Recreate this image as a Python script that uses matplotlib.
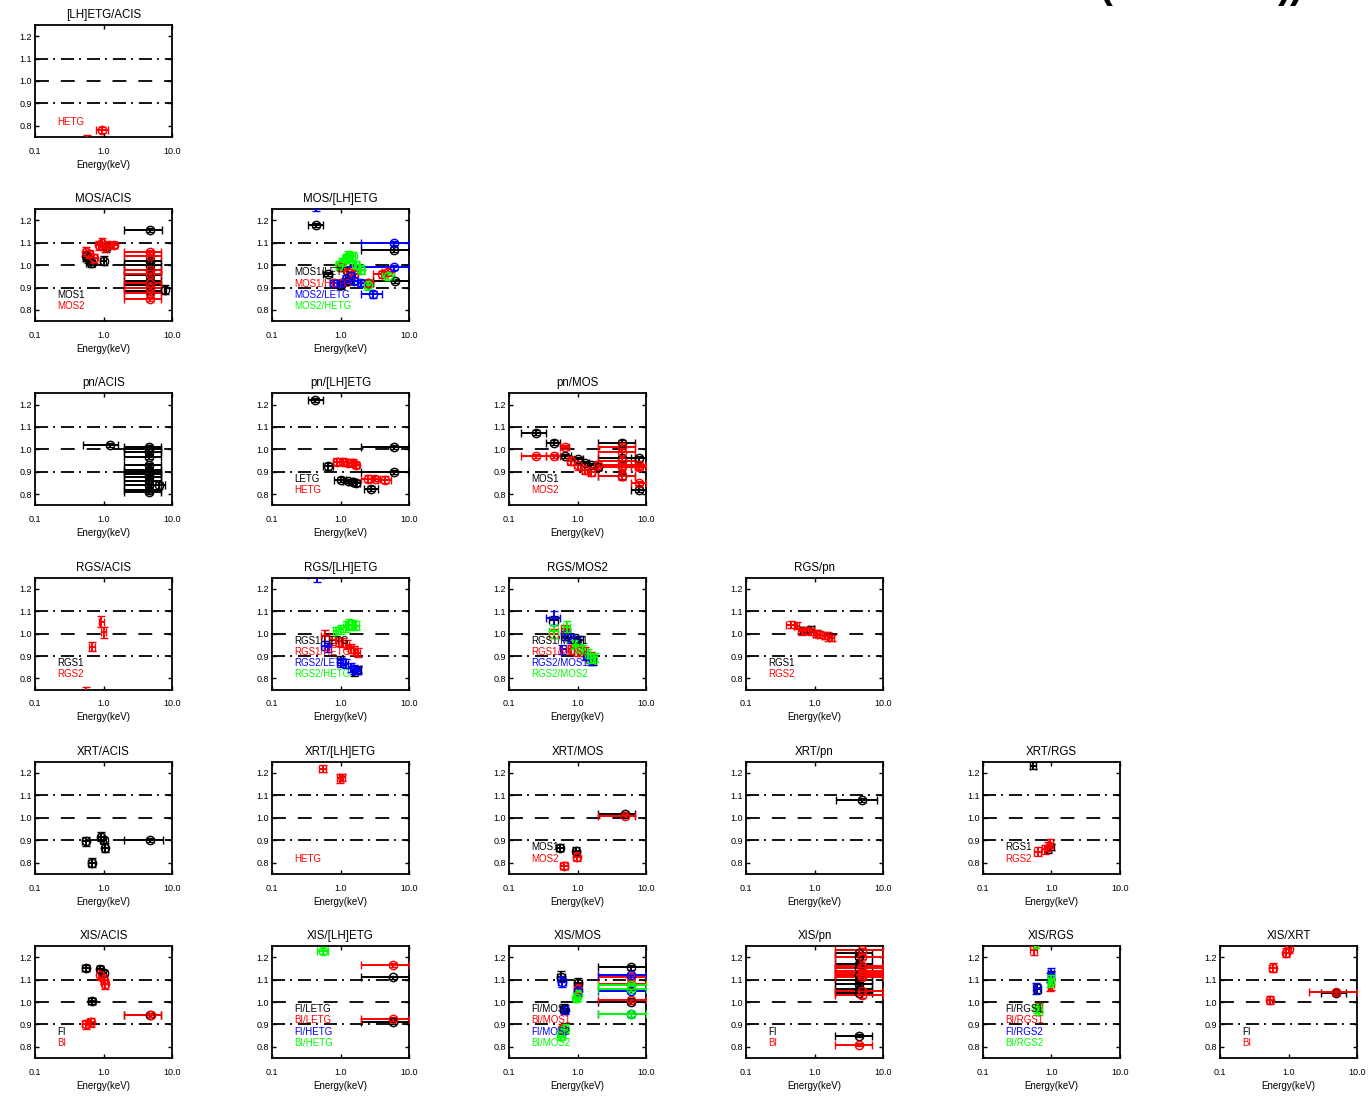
import numpy as np
import matplotlib
matplotlib.use("Agg")
import matplotlib.pyplot as plt
from matplotlib.ticker import NullLocator

plt.rcParams['font.family'] = ['Liberation Sans', 'DejaVu Sans']
plt.rcParams['lines.scale_dashes'] = False

# each row: energy (keV), energy low, energy high, ratio, ratio error
LHETG_ACIS_HETG = [(0.95, 0.78, 1.15, 0.781, 0.015), (0.57, 0.55, 0.59, 0.72, 0.04)]

MOS_ACIS_MOS1 = [(4.7, 2.0, 7.2, 1.156, 0.008), (4.7, 2.0, 7.0, 1.02, 0.008), (4.7, 2.0, 7.0, 1.0, 0.008),
                 (4.7, 2.0, 7.0, 0.98, 0.008), (4.7, 2.0, 7.0, 0.955, 0.008), (4.7, 2.0, 7.0, 0.93, 0.008),
                 (4.7, 2.0, 7.0, 0.91, 0.008), (4.7, 2.0, 7.0, 0.885, 0.008), (7.9, 7.7, 8.1, 0.89, 0.02),
                 (0.55, 0.5, 0.6, 1.04, 0.02), (0.65, 0.55, 0.75, 1.01, 0.02), (1.0, 0.9, 1.1, 1.02, 0.02),
                 (1.1, 1.0, 1.25, 1.08, 0.02), (0.6, 0.5, 0.7, 1.03, 0.02)]
MOS_ACIS_MOS2 = [(4.7, 2.0, 7.0, 1.06, 0.008), (4.7, 2.0, 7.0, 1.04, 0.008), (4.7, 2.0, 7.0, 0.98, 0.008),
                 (4.7, 2.0, 7.0, 0.96, 0.008), (4.7, 2.0, 7.0, 0.92, 0.008), (4.7, 2.0, 7.0, 0.90, 0.008),
                 (4.7, 2.0, 7.0, 0.875, 0.008), (4.7, 2.0, 7.0, 0.85, 0.008),
                 (0.55, 0.5, 0.62, 1.06, 0.02), (0.62, 0.55, 0.7, 1.05, 0.02), (0.72, 0.65, 0.8, 1.03, 0.02),
                 (0.85, 0.78, 0.92, 1.09, 0.02), (0.95, 0.88, 1.02, 1.10, 0.02), (1.05, 0.98, 1.15, 1.08, 0.02),
                 (1.2, 1.1, 1.35, 1.09, 0.015), (1.4, 1.25, 1.55, 1.09, 0.015)]

MOS_LHETG_MOS1_LETG = [(0.44, 0.34, 0.56, 1.18, 0.01), (6.0, 2.0, 10.0, 1.07, 0.01), (6.2, 3.0, 10.0, 0.93, 0.01),
                       (0.65, 0.55, 0.75, 0.96, 0.01), (1.0, 0.9, 1.1, 0.91, 0.015), (1.3, 1.2, 1.45, 0.93, 0.015),
                       (2.5, 2.0, 3.0, 0.92, 0.015)]
MOS_LHETG_MOS1_HETG = [(1.0, 0.9, 1.1, 0.99, 0.015), (1.3, 1.2, 1.45, 0.97, 0.015), (1.6, 1.45, 1.8, 0.96, 0.015),
                       (2.5, 2.0, 3.0, 0.92, 0.015), (4.0, 3.0, 5.0, 0.96, 0.015), (5.0, 4.0, 6.0, 0.97, 0.015)]
MOS_LHETG_MOS2_LETG = [(0.44, 0.34, 0.56, 1.27, 0.03), (6.0, 2.0, 10.0, 1.10, 0.01), (6.0, 1.0, 10.0, 0.99, 0.01),
                       (3.0, 2.0, 4.0, 0.87, 0.015), (0.8, 0.7, 0.9, 0.92, 0.015), (1.0, 0.9, 1.1, 0.92, 0.015),
                       (1.2, 1.1, 1.35, 0.94, 0.015), (1.4, 1.3, 1.55, 0.95, 0.02), (1.6, 1.45, 1.8, 0.93, 0.015),
                       (2.0, 1.8, 2.2, 0.92, 0.015)]
MOS_LHETG_MOS2_HETG = [(0.95, 0.85, 1.05, 1.0, 0.02), (1.05, 0.95, 1.15, 1.01, 0.02), (1.2, 1.1, 1.3, 1.03, 0.02),
                       (1.3, 1.2, 1.45, 1.04, 0.025), (1.5, 1.4, 1.65, 1.04, 0.02), (1.7, 1.55, 1.85, 1.0, 0.02),
                       (2.0, 1.85, 2.2, 0.98, 0.02), (2.5, 2.2, 2.8, 0.91, 0.02), (5.0, 4.0, 6.0, 0.95, 0.015)]

PN_ACIS_RATIO = [1.01, 1.0, 0.99, 0.965, 0.93, 0.91, 0.90, 0.89, 0.875, 0.86, 0.84, 0.82, 0.81]
PN_ACIS = ([(1.25, 0.5, 1.65, 1.02, 0.008)] + [(4.6, 2.0, 6.8, r, 0.01) for r in PN_ACIS_RATIO]
           + [(6.5, 5.0, 7.9, 0.84, 0.015)])

PN_LHETG_LETG = [(0.42, 0.33, 0.55, 1.22, 0.01), (6.0, 2.0, 10.0, 1.01, 0.01), (6.0, 2.0, 10.0, 0.90, 0.01),
                 (0.65, 0.55, 0.78, 0.925, 0.015), (1.0, 0.8, 1.2, 0.865, 0.01), (1.3, 1.1, 1.5, 0.86, 0.01),
                 (1.5, 1.3, 1.7, 0.855, 0.015), (1.7, 1.5, 1.9, 0.85, 0.015), (2.8, 2.2, 3.5, 0.825, 0.01)]
PN_LHETG_HETG = [(0.9, 0.78, 1.0, 0.945, 0.015), (1.1, 1.0, 1.2, 0.945, 0.015), (1.3, 1.2, 1.4, 0.94, 0.015),
                 (1.5, 1.4, 1.6, 0.94, 0.015), (1.7, 1.6, 1.85, 0.93, 0.015), (2.5, 2.0, 3.0, 0.87, 0.015),
                 (3.2, 2.8, 3.8, 0.87, 0.01), (4.5, 3.5, 5.5, 0.865, 0.015)]

PN_MOS_MOS1 = [(0.25, 0.15, 0.35, 1.075, 0.01), (0.45, 0.35, 0.55, 1.03, 0.01), (0.65, 0.5, 0.8, 0.97, 0.01),
               (1.0, 0.8, 1.2, 0.955, 0.01), (1.3, 1.15, 1.45, 0.94, 0.01), (1.6, 1.45, 1.8, 0.93, 0.01),
               (2.0, 1.8, 2.2, 0.92, 0.01), (4.5, 2.0, 7.0, 1.03, 0.01), (4.5, 2.0, 7.0, 0.96, 0.01),
               (4.5, 2.0, 7.0, 0.88, 0.01), (8.0, 6.0, 10.0, 0.82, 0.01), (8.0, 6.0, 10.0, 0.96, 0.01)]
PN_MOS_MOS2 = [(0.25, 0.15, 0.35, 0.97, 0.01), (0.45, 0.35, 0.55, 0.97, 0.01), (0.65, 0.55, 0.75, 1.01, 0.01),
               (0.8, 0.7, 0.9, 0.95, 0.02), (1.0, 0.9, 1.1, 0.93, 0.02), (1.3, 1.15, 1.45, 0.91, 0.02),
               (1.6, 1.45, 1.8, 0.90, 0.02), (2.0, 1.8, 2.2, 0.93, 0.02), (4.5, 2.0, 7.0, 1.01, 0.02),
               (4.5, 2.0, 7.0, 0.99, 0.02), (4.5, 2.0, 7.0, 0.95, 0.02), (4.5, 2.0, 7.0, 0.93, 0.02),
               (4.5, 2.0, 7.0, 0.92, 0.02), (4.5, 2.0, 7.0, 0.88, 0.015), (8.0, 6.0, 10.0, 0.85, 0.01),
               (8.0, 6.0, 10.0, 0.93, 0.01), (8.0, 6.0, 10.0, 0.92, 0.01)]

RGS_ACIS_RGS1 = []
RGS_ACIS_RGS2 = [(0.68, 0.62, 0.74, 0.942, 0.02), (0.92, 0.85, 1.0, 1.054, 0.025), (1.0, 0.92, 1.1, 1.005, 0.025),
                 (0.56, 0.54, 0.58, 0.72, 0.04)]

RGS_LHETG_RGS1_LETG = [(1.0, 0.9, 1.1, 0.88, 0.02), (1.6, 1.45, 1.8, 0.83, 0.02), (1.8, 1.6, 2.0, 0.84, 0.015)]
RGS_LHETG_RGS1_HETG = [(0.6, 0.52, 0.68, 0.99, 0.025), (0.75, 0.68, 0.82, 0.97, 0.02), (0.95, 0.87, 1.03, 0.965, 0.02),
                       (1.1, 1.0, 1.2, 0.96, 0.02), (1.25, 1.15, 1.35, 0.95, 0.02), (1.4, 1.3, 1.5, 0.935, 0.02),
                       (1.6, 1.5, 1.75, 0.925, 0.02), (1.8, 1.65, 1.95, 0.915, 0.02)]
RGS_LHETG_RGS2_LETG = [(0.45, 0.33, 0.55, 1.26, 0.03), (0.6, 0.52, 0.68, 0.945, 0.02), (0.65, 0.58, 0.72, 0.94, 0.02),
                       (1.0, 0.9, 1.1, 0.87, 0.02), (1.2, 1.1, 1.3, 0.865, 0.02), (1.4, 1.3, 1.5, 0.85, 0.02),
                       (1.6, 1.5, 1.75, 0.84, 0.02), (1.8, 1.65, 1.95, 0.835, 0.015)]
RGS_LHETG_RGS2_HETG = [(0.85, 0.78, 0.92, 1.01, 0.02), (1.0, 0.92, 1.08, 1.02, 0.02), (1.2, 1.1, 1.3, 1.03, 0.025),
                       (1.35, 1.25, 1.45, 1.04, 0.025), (1.5, 1.4, 1.6, 1.04, 0.02), (1.7, 1.6, 1.85, 1.035, 0.02)]

RGS_MOS2_RGS1_MOS1 = [(0.45, 0.38, 0.52, 1.06, 0.02), (0.7, 0.62, 0.78, 1.0, 0.02), (0.9, 0.8, 1.0, 0.98, 0.02),
                      (1.1, 1.0, 1.2, 0.97, 0.02), (1.5, 1.35, 1.65, 0.89, 0.02), (1.7, 1.55, 1.85, 0.88, 0.02)]
RGS_MOS2_RGS1_MOS2 = [(0.45, 0.38, 0.52, 1.0, 0.02), (0.65, 0.58, 0.72, 1.02, 0.02), (0.8, 0.72, 0.88, 0.93, 0.02),
                      (1.0, 0.9, 1.1, 0.92, 0.02), (1.3, 1.2, 1.4, 0.92, 0.02), (1.6, 1.45, 1.75, 0.9, 0.02)]
RGS_MOS2_RGS2_MOS1 = [(0.45, 0.35, 0.55, 1.07, 0.03), (0.65, 0.58, 0.72, 0.99, 0.02), (0.8, 0.72, 0.88, 0.98, 0.02),
                      (1.0, 0.9, 1.1, 0.97, 0.02), (0.6, 0.55, 0.68, 0.93, 0.02), (1.3, 1.2, 1.4, 0.9, 0.02),
                      (1.6, 1.45, 1.75, 0.88, 0.02)]
RGS_MOS2_RGS2_MOS2 = [(0.45, 0.38, 0.52, 1.01, 0.03), (0.7, 0.62, 0.78, 1.03, 0.025), (0.9, 0.82, 0.98, 0.95, 0.02),
                      (1.0, 0.92, 1.08, 0.94, 0.02), (1.2, 1.1, 1.3, 0.93, 0.02), (1.4, 1.3, 1.5, 0.91, 0.02),
                      (1.6, 1.5, 1.7, 0.89, 0.02), (1.8, 1.7, 1.95, 0.895, 0.02)]

RGS_PN_RGS1 = [(0.7, 0.62, 0.78, 1.015, 0.015), (0.9, 0.82, 0.98, 1.02, 0.015), (1.1, 1.0, 1.2, 1.0, 0.015)]
RGS_PN_RGS2 = [(0.45, 0.38, 0.52, 1.04, 0.015), (0.55, 0.5, 0.6, 1.035, 0.015), (0.65, 0.58, 0.72, 1.01, 0.015),
               (0.75, 0.68, 0.82, 1.015, 0.015), (0.9, 0.82, 0.98, 1.01, 0.015), (1.05, 0.95, 1.15, 1.0, 0.015),
               (1.2, 1.1, 1.3, 0.995, 0.015), (1.4, 1.3, 1.5, 0.99, 0.015), (1.6, 1.5, 1.75, 0.985, 0.02),
               (1.8, 1.65, 1.95, 0.98, 0.015)]

XRT_ACIS = [(0.55, 0.48, 0.62, 0.895, 0.02), (0.68, 0.6, 0.76, 0.80, 0.02), (0.92, 0.82, 1.02, 0.915, 0.02),
            (1.05, 0.95, 1.15, 0.866, 0.02), (1.0, 0.9, 1.1, 0.90, 0.015), (4.7, 2.0, 7.5, 0.90, 0.008)]

XRT_LHETG_HETG = [(0.55, 0.48, 0.62, 1.22, 0.015), (0.98, 0.88, 1.08, 1.176, 0.02), (1.05, 0.95, 1.15, 1.18, 0.015)]

XRT_MOS_MOS1 = [(0.55, 0.48, 0.62, 0.866, 0.015), (0.95, 0.85, 1.05, 0.853, 0.015), (4.9, 2.0, 7.0, 1.018, 0.008)]
XRT_MOS_MOS2 = [(0.64, 0.56, 0.72, 0.786, 0.015), (0.97, 0.87, 1.07, 0.826, 0.02), (4.9, 2.0, 7.0, 1.009, 0.008)]

XRT_PN = [(4.9, 2.06, 8.2, 1.08, 0.008)]

XRT_RGS_RGS1 = [(0.54, 0.48, 0.6, 1.232, 0.015), (0.9, 0.82, 0.98, 0.86, 0.015), (1.0, 0.9, 1.1, 0.87, 0.015)]
XRT_RGS_RGS2 = [(0.63, 0.56, 0.7, 0.848, 0.02), (0.8, 0.72, 0.88, 0.86, 0.02), (0.9, 0.82, 0.98, 0.87, 0.02),
                (0.95, 0.88, 1.05, 0.885, 0.02)]

XIS_ACIS_FI = [(0.55, 0.48, 0.62, 1.152, 0.015), (0.68, 0.6, 0.76, 1.004, 0.015), (0.89, 0.8, 0.98, 1.147, 0.015),
               (1.0, 0.9, 1.1, 1.13, 0.015), (4.7, 2.0, 7.0, 0.94, 0.008)]
XIS_ACIS_BI = [(0.9, 0.82, 0.98, 1.12, 0.02), (1.02, 0.92, 1.12, 1.1, 0.02), (1.05, 0.95, 1.15, 1.08, 0.02),
               (0.55, 0.48, 0.62, 0.90, 0.02), (0.65, 0.58, 0.72, 0.91, 0.02), (4.9, 2.0, 7.0, 0.942, 0.01)]

XIS_LHETG_FI_LETG = [(5.8, 2.0, 10.0, 1.11, 0.008), (5.8, 2.0, 10.0, 0.91, 0.008)]
XIS_LHETG_BI_LETG = [(5.8, 2.0, 10.0, 1.165, 0.008), (5.8, 2.0, 10.0, 0.925, 0.008)]
XIS_LHETG_FI_HETG = []
XIS_LHETG_BI_HETG = [(0.55, 0.45, 0.65, 1.228, 0.015)]

XIS_MOS_FI_MOS1 = [(0.57, 0.5, 0.65, 1.113, 0.025), (1.03, 0.9, 1.15, 1.083, 0.025), (0.63, 0.56, 0.7, 0.969, 0.02),
                   (6.0, 2.0, 10.0, 1.155, 0.01), (6.0, 2.0, 10.0, 1.0, 0.01)]
XIS_MOS_BI_MOS1 = [(1.0, 0.9, 1.1, 1.06, 0.02), (6.0, 2.0, 10.0, 1.11, 0.01), (6.0, 2.0, 10.0, 1.08, 0.01),
                   (6.0, 2.0, 10.0, 1.01, 0.01), (0.6, 0.55, 0.68, 0.88, 0.02)]
XIS_MOS_FI_MOS2 = [(0.6, 0.52, 0.68, 1.09, 0.025), (1.0, 0.9, 1.1, 1.05, 0.025), (0.65, 0.58, 0.72, 0.965, 0.02),
                   (6.0, 2.0, 10.0, 1.12, 0.01), (6.0, 2.0, 10.0, 1.05, 0.01), (6.0, 2.0, 10.0, 0.945, 0.01)]
XIS_MOS_BI_MOS2 = [(1.0, 0.9, 1.1, 1.03, 0.025), (0.95, 0.85, 1.05, 1.02, 0.02), (0.6, 0.52, 0.68, 0.87, 0.025),
                   (0.65, 0.58, 0.72, 0.88, 0.02), (0.58, 0.52, 0.64, 0.85, 0.02), (6.0, 2.0, 10.0, 1.075, 0.01),
                   (6.0, 2.0, 10.0, 1.06, 0.01), (6.0, 2.0, 10.0, 0.945, 0.01)]

XIS_PN_FI_RATIO = [1.22, 1.2, 1.17, 1.15, 1.12, 1.10, 1.08, 1.06, 1.04]
XIS_PN_BI_RATIO = [1.23, 1.2, 1.16, 1.15, 1.14, 1.13, 1.12, 1.11, 1.05, 1.03]
XIS_PN_FI = [(4.5, 2.0, 7.0, r, 0.01) for r in XIS_PN_FI_RATIO] + [(4.5, 2.0, 7.0, 0.85, 0.008)]
XIS_PN_BI = [(5.0, 2.0, 10.0, r, 0.01) for r in XIS_PN_BI_RATIO] + [(4.5, 2.0, 7.0, 0.81, 0.008)]

XIS_RGS_FI_RGS1 = [(0.62, 0.55, 0.7, 1.06, 0.02), (1.0, 0.9, 1.1, 1.12, 0.02)]
XIS_RGS_BI_RGS1 = [(0.55, 0.48, 0.62, 1.232, 0.02), (0.65, 0.58, 0.72, 0.975, 0.02), (1.0, 0.9, 1.1, 1.08, 0.025),
                   (0.95, 0.88, 1.03, 1.07, 0.02)]
XIS_RGS_FI_RGS2 = [(0.6, 0.53, 0.67, 1.062, 0.025), (1.0, 0.9, 1.1, 1.128, 0.025), (0.95, 0.88, 1.03, 1.11, 0.02)]
XIS_RGS_BI_RGS2 = [(0.61, 0.54, 0.68, 0.973, 0.02), (0.65, 0.58, 0.72, 0.965, 0.025), (1.0, 0.9, 1.1, 1.10, 0.02),
                   (0.95, 0.88, 1.03, 1.085, 0.02), (0.6, 0.56, 0.64, 1.26, 0.02)]

XIS_XRT_FI = [(5.0, 3.0, 7.0, 1.04, 0.008), (1.0, 0.9, 1.1, 1.27, 0.02)]
XIS_XRT_BI = [(0.59, 0.52, 0.66, 1.152, 0.02), (0.54, 0.48, 0.6, 1.009, 0.02), (0.92, 0.82, 1.02, 1.219, 0.02),
              (1.0, 0.9, 1.1, 1.235, 0.015), (4.9, 2.0, 10.0, 1.045, 0.008)]

COLORS = ['black', '#ff0000', '#0000ff', '#00ff00']

# row, col, title, series, legend labels, open circles
PANELS = [
    (0, 0, '[LH]ETG/ACIS', [[], LHETG_ACIS_HETG], ['', 'HETG'], True),
    (1, 0, 'MOS/ACIS', [MOS_ACIS_MOS1, MOS_ACIS_MOS2], ['MOS1', 'MOS2'], True),
    (1, 1, 'MOS/[LH]ETG', [MOS_LHETG_MOS1_LETG, MOS_LHETG_MOS1_HETG, MOS_LHETG_MOS2_LETG, MOS_LHETG_MOS2_HETG],
     ['MOS1/LETG', 'MOS1/HETG', 'MOS2/LETG', 'MOS2/HETG'], True),
    (2, 0, 'pn/ACIS', [PN_ACIS], [], True),
    (2, 1, 'pn/[LH]ETG', [PN_LHETG_LETG, PN_LHETG_HETG], ['LETG', 'HETG'], True),
    (2, 2, 'pn/MOS', [PN_MOS_MOS1, PN_MOS_MOS2], ['MOS1', 'MOS2'], True),
    (3, 0, 'RGS/ACIS', [RGS_ACIS_RGS1, RGS_ACIS_RGS2], ['RGS1', 'RGS2'], False),
    (3, 1, 'RGS/[LH]ETG', [RGS_LHETG_RGS1_LETG, RGS_LHETG_RGS1_HETG, RGS_LHETG_RGS2_LETG, RGS_LHETG_RGS2_HETG],
     ['RGS1/LETG', 'RGS1/HETG', 'RGS2/LETG', 'RGS2/HETG'], False),
    (3, 2, 'RGS/MOS2', [RGS_MOS2_RGS1_MOS1, RGS_MOS2_RGS1_MOS2, RGS_MOS2_RGS2_MOS1, RGS_MOS2_RGS2_MOS2],
     ['RGS1/MOS1', 'RGS1/MOS2', 'RGS2/MOS1', 'RGS2/MOS2'], False),
    (3, 3, 'RGS/pn', [RGS_PN_RGS1, RGS_PN_RGS2], ['RGS1', 'RGS2'], False),
    (4, 0, 'XRT/ACIS', [XRT_ACIS], [], True),
    (4, 1, 'XRT/[LH]ETG', [[], XRT_LHETG_HETG], ['', 'HETG'], False),
    (4, 2, 'XRT/MOS', [XRT_MOS_MOS1, XRT_MOS_MOS2], ['MOS1', 'MOS2'], True),
    (4, 3, 'XRT/pn', [XRT_PN], [], True),
    (4, 4, 'XRT/RGS', [XRT_RGS_RGS1, XRT_RGS_RGS2], ['RGS1', 'RGS2'], False),
    (5, 0, 'XIS/ACIS', [XIS_ACIS_FI, XIS_ACIS_BI], ['FI', 'BI'], True),
    (5, 1, 'XIS/[LH]ETG', [XIS_LHETG_FI_LETG, XIS_LHETG_BI_LETG, XIS_LHETG_FI_HETG, XIS_LHETG_BI_HETG],
     ['FI/LETG', 'BI/LETG', 'FI/HETG', 'BI/HETG'], True),
    (5, 2, 'XIS/MOS', [XIS_MOS_FI_MOS1, XIS_MOS_BI_MOS1, XIS_MOS_FI_MOS2, XIS_MOS_BI_MOS2],
     ['FI/MOS1', 'BI/MOS1', 'FI/MOS2', 'BI/MOS2'], True),
    (5, 3, 'XIS/pn', [XIS_PN_FI, XIS_PN_BI], ['FI', 'BI'], True),
    (5, 4, 'XIS/RGS', [XIS_RGS_FI_RGS1, XIS_RGS_BI_RGS1, XIS_RGS_FI_RGS2, XIS_RGS_BI_RGS2],
     ['FI/RGS1', 'BI/RGS1', 'FI/RGS2', 'BI/RGS2'], False),
    (5, 5, 'XIS/XRT', [XIS_XRT_FI, XIS_XRT_BI], ['FI', 'BI'], True),
]

W, H = 1369, 1098
fig = plt.figure(figsize=(W / 100, H / 100), dpi=100)


def draw_panel(ax, title, series, labels, circles):
    ax.set_xscale('log')
    for k, pts in enumerate(series):
        if not pts:
            continue
        d = np.array(pts)
        e, lo, hi, r, dr = d.T
        ax.errorbar(e, r, xerr=[e - lo, hi - e], yerr=dr, fmt='o' if circles else 'none',
                    ms=6, mfc='none', mec=COLORS[k], mew=1.0, ecolor=COLORS[k],
                    elinewidth=1.4, capsize=2.6, capthick=1.3, zorder=3)
    ax.axhline(1.1, color='black', lw=1.3, ls=(0, (9.4, 3.6, 1.4, 4.3)), zorder=2)
    ax.axhline(0.9, color='black', lw=1.3, ls=(0, (9.4, 3.6, 1.4, 4.3)), zorder=2)
    ax.axhline(1.0, color='black', lw=1.3, ls=(0, (10, 8.6)), zorder=2)
    ax.set_xlim(0.1, 10.0)
    ax.set_ylim(0.75, 1.25)
    ax.set_xticks([0.1, 1.0, 10.0])
    ax.set_xticklabels(['0.1', '1.0', '10.0'])
    ax.xaxis.set_minor_locator(NullLocator())
    ax.set_yticks([0.8, 0.9, 1.0, 1.1, 1.2])
    ax.set_yticklabels(['0.8', '0.9', '1.0', '1.1', '1.2'])
    ax.tick_params(direction='in', top=True, right=True, length=3, width=1.0, labelsize=6.5)
    ax.tick_params(axis='x', pad=7)
    ax.tick_params(axis='y', pad=2)
    for sp in ax.spines.values():
        sp.set_linewidth(1.3)
    ax.set_title(title, fontsize=8.3, pad=5)
    ax.set_xlabel('Energy(keV)', fontsize=7, labelpad=3)
    n = len(labels)
    for i, lab in enumerate(labels):
        ax.text(0.16, 0.135 + (n - 1 - i) * 0.1, lab, color=COLORS[i], fontsize=7,
                transform=ax.transAxes, va='center', ha='left', zorder=4)


for row, col, title, series, labels, circles in PANELS:
    left = (35 + 237 * col) / W
    top = (25 + 184.2 * row) / H
    ax = fig.add_axes([left, 1 - top - 112 / H, 137 / W, 112 / H])
    draw_panel(ax, title, series, labels, circles)

# big heading that sits mostly above the page, only its lower edge shows
fig.text(1099 / W, 1.0 + 2 / H, '(', fontsize=28, fontweight='bold', va='baseline', ha='left')
fig.text(1278 / W, 1.0 + 2 / H, '))', fontsize=28, fontweight='bold', va='baseline', ha='left')

plt.savefig('out.png', dpi=100)
